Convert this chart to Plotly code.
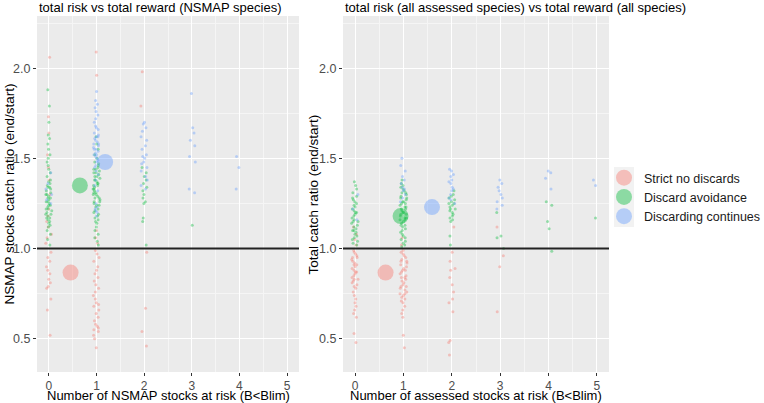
import plotly.graph_objects as go
from plotly.subplots import make_subplots

# ---------------- data ----------------
groups = ["Strict no discards", "Discard avoidance", "Discarding continues"]
colors = ["248,118,109", "0,186,56", "97,156,255"]

# Left panel: NSMAP stocks at risk (x) vs NSMAP catch ratio (y)
L_red_x0 = [2.06, 1.73, 1.64, 1.52, 1.45, 1.38, 1.30, 1.22, 1.18, 1.15, 1.12, 1.08, 1.06, 1.03,
            0.98, 0.95, 0.93, 0.90, 0.88, 0.86, 0.83, 0.81, 0.79, 0.78, 0.72, 0.66, 0.52]
L_red_x1 = [2.09, 1.96, 1.10, 1.06, 1.03, 0.99, 0.97, 0.95, 0.93, 0.90, 0.88, 0.86, 0.84, 0.82,
            0.80, 0.78, 0.76, 0.74, 0.72, 0.70, 0.69, 0.68, 0.66, 0.64, 0.62, 0.60, 0.58, 0.57,
            0.56, 0.55, 0.54, 0.52, 0.50, 0.45]
L_red_x2 = [1.98, 1.79, 0.98, 0.67, 0.54, 0.46]
L_green_x0 = [1.88, 1.79, 1.70, 1.63, 1.61, 1.58, 1.55, 1.52, 1.50, 1.48, 1.46, 1.44, 1.42, 1.40,
              1.38, 1.37, 1.35, 1.34, 1.33, 1.32, 1.31, 1.30, 1.29, 1.28, 1.27, 1.26, 1.25, 1.24,
              1.23, 1.22, 1.21, 1.20, 1.19, 1.18, 1.17, 1.16, 1.15, 1.14, 1.13, 1.12, 1.10, 1.08,
              1.05, 1.02, 1.30, 1.28, 1.26, 1.24, 1.22, 1.34, 1.36, 1.19, 1.17]
L_green_x1 = [1.62, 1.58, 1.55, 1.52, 1.50, 1.48, 1.47, 1.46, 1.45, 1.44, 1.43, 1.42, 1.41, 1.40,
              1.39, 1.38, 1.37, 1.36, 1.35, 1.35, 1.34, 1.33, 1.32, 1.31, 1.30, 1.30, 1.29, 1.28,
              1.27, 1.26, 1.25, 1.24, 1.23, 1.22, 1.21, 1.20, 1.19, 1.18, 1.17, 1.16, 1.15, 1.14,
              1.12, 1.10, 1.08, 1.06, 1.04, 1.02, 1.42, 1.38, 1.33, 1.28, 1.24, 1.36, 1.31, 1.26,
              1.44, 1.40]
L_green_x2 = [1.45, 1.42, 1.40, 1.38, 1.36, 1.34, 1.32, 1.30, 1.28, 1.26, 1.25, 1.17, 1.15, 1.02]
L_green_x3 = [1.13]
L_blue_x0 = [1.42, 1.36, 1.33, 1.30, 1.27, 1.25]
L_blue_x1 = [1.87, 1.82, 1.80, 1.78, 1.76, 1.74, 1.72, 1.70, 1.68, 1.67, 1.66, 1.64, 1.63, 1.62,
             1.61, 1.60, 1.59, 1.58, 1.57, 1.56, 1.55, 1.54, 1.53, 1.52, 1.51, 1.50, 1.49, 1.48,
             1.46, 1.45, 1.43, 1.41, 1.38, 1.35, 1.32, 1.25, 1.23, 1.22, 1.21, 1.20, 1.18, 1.62,
             1.58, 1.55, 1.52]
L_blue_x2 = [1.70, 1.69, 1.67, 1.65, 1.62, 1.60, 1.57, 1.55, 1.52, 1.51, 1.50, 1.48, 1.47, 1.45,
             1.43, 1.40, 1.38, 1.35, 1.33]
L_blue_x3 = [1.86, 1.67, 1.64, 1.60, 1.57, 1.51, 1.48, 1.33, 1.31]
L_blue_x4 = [1.51, 1.45, 1.33]

# Right panel: all assessed stocks at risk (x) vs total catch ratio (y)
R_red_x0 = [1.12, 1.08, 1.05, 1.02, 0.99, 0.98, 0.97, 0.96, 0.95, 0.94, 0.93, 0.92, 0.91, 0.90,
            0.89, 0.88, 0.87, 0.86, 0.85, 0.84, 0.83, 0.82, 0.81, 0.80, 0.79, 0.78, 0.76, 0.74,
            0.72, 0.70, 0.68, 0.66, 0.64, 0.62, 0.53, 0.48, 0.95, 0.91, 0.87, 0.83]
R_red_x1 = [1.06, 1.02, 0.99, 0.98, 0.97, 0.96, 0.95, 0.94, 0.93, 0.92, 0.91, 0.90, 0.89, 0.88,
            0.87, 0.86, 0.85, 0.84, 0.83, 0.82, 0.81, 0.80, 0.79, 0.78, 0.77, 0.76, 0.75, 0.74,
            0.73, 0.72, 0.71, 0.70, 0.68, 0.66, 0.64, 0.62, 0.52, 0.45, 0.93, 0.88, 0.84, 0.79,
            0.75]
R_red_x2 = [1.12, 0.98, 0.93, 0.89, 0.88, 0.84, 0.80, 0.76, 0.72, 0.70, 0.65, 0.49, 0.48, 0.41]
R_red_x3 = [1.12, 0.96, 0.90, 0.65]
R_green_x0 = [1.37, 1.35, 1.33, 1.31, 1.29, 1.28, 1.27, 1.26, 1.25, 1.24, 1.23, 1.22, 1.21, 1.20,
              1.19, 1.18, 1.17, 1.16, 1.15, 1.14, 1.13, 1.12, 1.11, 1.10, 1.09, 1.08, 1.07, 1.06,
              1.05, 1.04, 1.03, 1.02, 1.20, 1.15, 1.10]
R_green_x1 = [1.38, 1.36, 1.35, 1.34, 1.33, 1.32, 1.31, 1.30, 1.29, 1.28, 1.27, 1.26, 1.25, 1.24,
              1.23, 1.22, 1.21, 1.20, 1.19, 1.18, 1.17, 1.16, 1.15, 1.14, 1.13, 1.12, 1.11, 1.10,
              1.09, 1.08, 1.07, 1.06, 1.05, 1.04, 1.03, 1.02, 1.01, 1.25, 1.22, 1.19, 1.16, 1.13,
              1.28, 1.31, 1.20, 1.17, 1.23, 1.26]
R_green_x2 = [1.32, 1.30, 1.29, 1.28, 1.27, 1.26, 1.25, 1.24, 1.23, 1.22, 1.21, 1.20, 1.19, 1.18,
              1.17, 1.16, 1.15, 1.07, 1.02, 1.25, 1.22]
R_green_x3 = [1.07, 1.06, 1.00, 1.20]
R_green_x4 = [1.26, 1.24, 1.15, 1.11, 0.985]
R_green_x5 = [1.17]
R_blue_x0 = [1.30, 1.22, 1.16]
R_blue_x1 = [1.50, 1.46, 1.43, 1.40, 1.38, 1.36, 1.34, 1.32, 1.30, 1.28, 1.26, 1.33]
R_blue_x2 = [1.44, 1.43, 1.41, 1.40, 1.38, 1.37, 1.36, 1.34, 1.33, 1.32, 1.30, 1.28, 1.27, 1.25]
R_blue_x3 = [1.38, 1.36, 1.34, 1.32, 1.30, 1.28, 1.26, 1.24, 1.22]
R_blue_x4 = [1.43, 1.42, 1.39, 1.33]
R_blue_x5 = [1.38, 1.35]

# group means (large circles)
left_mean_x = [0.455, 0.65, 1.18]
left_mean_y = [0.867, 1.35, 1.48]
right_mean_x = [0.63, 0.94, 1.59]
right_mean_y = [0.867, 1.18, 1.23]

x_ticks = [0, 1, 2, 3, 4, 5]
y_ticks = [0.5, 1.0, 1.5, 2.0]

left_titles = ["total risk vs total reward (NSMAP species)",
               "Number of NSMAP stocks at risk (B<Blim)",
               "NSMAP stocks catch ratio (end/start)"]
right_titles = ["total risk (all assessed species) vs total reward (all species)",
                "Number of assessed stocks at risk (B<Blim)",
                "Total catch ratio (end/start)"]

left_sets = [
    {0: L_red_x0, 1: L_red_x1, 2: L_red_x2},
    {0: L_green_x0, 1: L_green_x1, 2: L_green_x2, 3: L_green_x3},
    {0: L_blue_x0, 1: L_blue_x1, 2: L_blue_x2, 3: L_blue_x3, 4: L_blue_x4},
]
right_sets = [
    {0: R_red_x0, 1: R_red_x1, 2: R_red_x2, 3: R_red_x3},
    {0: R_green_x0, 1: R_green_x1, 2: R_green_x2, 3: R_green_x3, 4: R_green_x4, 5: R_green_x5},
    {0: R_blue_x0, 1: R_blue_x1, 2: R_blue_x2, 3: R_blue_x3, 4: R_blue_x4, 5: R_blue_x5},
]

# ---------------- figure ----------------
W, H = 764, 403
ML, MR, MT, MB = 37, 155, 16, 31
PW = W - ML - MR
PH = H - MT - MB


def px_x(px):
    return (px - ML) / PW


def px_y(py):
    return (H - MB - py) / PH


fig = make_subplots(rows=1, cols=2, horizontal_spacing=0.0)
fig.update_layout(xaxis=dict(domain=[0, px_x(299)]), xaxis2=dict(domain=[px_x(343), 1]))

for col, sets, mx, my in [(1, left_sets, left_mean_x, left_mean_y),
                          (2, right_sets, right_mean_x, right_mean_y)]:
    for gi, s in enumerate(sets):
        xs, ys = [], []
        for k, vals in s.items():
            xs += [k] * len(vals)
            ys += vals
        fig.add_trace(go.Box(
            x=xs, y=ys, boxpoints="all", jitter=0.35, pointpos=0, width=0.42,
            line=dict(color="rgba(0,0,0,0)", width=0), fillcolor="rgba(0,0,0,0)",
            marker=dict(color=f"rgba({colors[gi]},0.38)", size=3),
            showlegend=False, hoveron="points", name=groups[gi]), row=1, col=col)
    for gi in range(3):
        fig.add_trace(go.Scatter(
            x=[mx[gi]], y=[my[gi]], mode="markers", name=groups[gi],
            legendgroup=groups[gi], showlegend=(col == 1),
            marker=dict(color=f"rgba({colors[gi]},0.42)", size=16)), row=1, col=col)

axis_common = dict(showgrid=True, gridcolor="white", gridwidth=1.1, zeroline=False,
                   ticks="outside", ticklen=3, tickcolor="#333333", tickwidth=1,
                   showline=False, automargin=False)
for ax in ["xaxis", "xaxis2"]:
    fig.update_layout(**{ax: dict(range=[-0.25, 5.25], tickvals=x_ticks,
                                  tickfont=dict(family="Liberation Sans, Arial", size=12,
                                                color="#4D4D4D"),
                                  minor=dict(dtick=0.5, tick0=0, showgrid=True,
                                             gridcolor="#F5F5F5", gridwidth=0.6, ticks=""),
                                  **axis_common)})
for ax in ["yaxis", "yaxis2"]:
    fig.update_layout(**{ax: dict(range=[0.316, 2.289], tickvals=y_ticks,
                                  ticktext=[f"{v:.1f}" for v in y_ticks],
                                  tickfont=dict(family="Liberation Sans, Arial", size=12.5,
                                                color="#4D4D4D"),
                                  minor=dict(dtick=0.25, tick0=0, showgrid=True,
                                             gridcolor="#F5F5F5", gridwidth=0.6, ticks=""),
                                  **axis_common)})

for xr, yr in [("x", "y"), ("x2", "y2")]:
    fig.add_shape(type="line", xref=f"{xr} domain", yref=yr, x0=0, x1=1, y0=1, y1=1,
                  line=dict(color="#222222", width=2))

# legend key background
fig.add_shape(type="rect", xref="paper", yref="paper", x0=px_x(614), x1=px_x(634),
              y0=px_y(227), y1=px_y(167), fillcolor="#F2F2F2", line=dict(width=0), layer="below")

font_txt = "Liberation Sans, Arial"
ann = []
for titles, left_px, center_px, ytitle_px in [(left_titles, 37, 168, 9),
                                              (right_titles, 343, 476, 313)]:
    ann.append(dict(text=titles[0], xref="paper", yref="paper", x=px_x(left_px), y=px_y(8),
                    xanchor="left", yanchor="middle", showarrow=False,
                    font=dict(family=font_txt, size=13, color="black")))
    ann.append(dict(text=titles[1].replace("<", "&lt;"), xref="paper", yref="paper",
                    x=px_x(center_px), y=px_y(395.5), xanchor="center", yanchor="middle",
                    showarrow=False, font=dict(family=font_txt, size=13, color="black")))
    ann.append(dict(text=titles[2], xref="paper", yref="paper", x=px_x(ytitle_px),
                    y=px_y(194.5), xanchor="center", yanchor="middle", textangle=-90,
                    showarrow=False, font=dict(family=font_txt, size=13.5, color="black")))

fig.update_layout(
    width=W, height=H, margin=dict(l=ML, r=MR, t=MT, b=MB, autoexpand=False),
    paper_bgcolor="white", plot_bgcolor="#EBEBEB",
    boxmode="overlay", annotations=ann,
    legend=dict(x=px_x(604), y=px_y(197), xanchor="left", yanchor="middle",
                font=dict(family=font_txt, size=12.5, color="#1A1A1A"),
                bgcolor="rgba(0,0,0,0)", tracegroupgap=0, itemsizing="trace"),
    font=dict(family=font_txt),
)

fig.write_html("out.html", config={"displayModeBar": False},
               post_script="document.body.style.margin='0';document.body.style.overflow='hidden';")
